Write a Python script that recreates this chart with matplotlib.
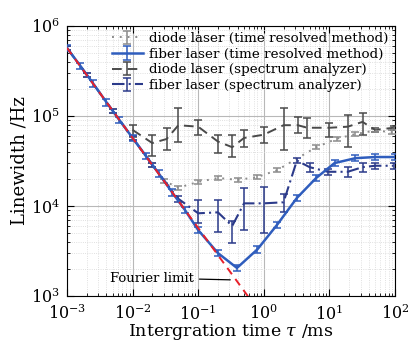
'''
Linewidth vs integration time: diode / fiber laser, time resolved vs spectrum analyzer.
'''

import numpy as np
import matplotlib
matplotlib.use('Agg')
from matplotlib import pyplot as plt
from matplotlib.ticker import LogLocator, LogFormatterMathtext, NullFormatter

plt.rcParams['font.family'] = 'DejaVu Serif'
plt.rcParams['mathtext.fontset'] = 'dejavuserif'


# diode laser, time resolved method
tau_dtr   = [1e-3, 2e-3, 5e-3, 1e-2, 2e-2, 3e-2, 0.05, 0.1, 0.2, 0.4, 0.8, 1.6, 6.3, 13, 25, 50, 90]
lw_dtr    = [5.7e5, 2.85e5, 1.14e5, 5.7e4, 2.85e4, 1.9e4, 1.6e4, 1.85e4, 2.05e4, 1.95e4, 2.1e4, 2.5e4,
             4.5e4, 5.6e4, 6.3e4, 6.9e4, 6.6e4]
err_dtr   = [0.05]*17   # relative

# fiber laser, time resolved method
tau_ftr   = [1e-3, 1.6e-3, 2.5e-3, 4e-3, 6.3e-3, 1e-2, 1.6e-2, 2.5e-2, 4e-2, 6.3e-2, 0.1, 0.2, 0.39,
             0.8, 1.6, 3.2, 6.3, 12, 25, 50, 100]
lw_ftr    = [5.7e5, 3.6e5, 2.3e5, 1.42e5, 9.0e4, 5.7e4, 3.6e4, 2.3e4, 1.42e4, 9.0e3, 5.4e3, 3.0e3, 2.05e3,
             3.3e3, 6.2e3, 1.23e4, 2.05e4, 3.0e4, 3.4e4, 3.5e4, 3.5e4]
err_ftr   = [0.08]*21   # relative

# diode laser, spectrum analyzer (centre, low, high)
tau_dsa   = [0.01, 0.02, 0.033, 0.05, 0.1, 0.2, 0.33, 0.5, 1.0, 2.0, 3.3, 4.6, 10, 19, 32, 50, 95]
lw_dsa    = [7.0e4, 5.0e4, 5.55e4, 7.9e4, 7.6e4, 5.2e4, 4.5e4, 5.7e4, 6.2e4, 7.9e4, 7.9e4, 7.4e4,
             7.4e4, 7.6e4, 8.6e4, 7.0e4, 7.4e4]
lo_dsa    = [5.8e4, 3.6e4, 4.2e4, 5.2e4, 6.2e4, 3.9e4, 3.5e4, 4.5e4, 5.0e4, 4.2e4, 6.5e4, 5.7e4,
             5.9e4, 4.5e4, 6.2e4, 6.6e4, 7.0e4]
hi_dsa    = [8.0e4, 6.2e4, 7.4e4, 1.23e5, 9.0e4, 6.2e4, 6.2e4, 7.0e4, 7.6e4, 1.23e5, 9.8e4, 9.5e4,
             8.3e4, 1.03e5, 1.08e5, 7.4e4, 7.8e4]

# fiber laser, spectrum analyzer (centre, low, high)
tau_fsa   = [1e-3, 2e-3, 5e-3, 1e-2, 2e-2, 5e-2, 0.1, 0.2, 0.33, 0.5, 1.0, 2.0, 3.2, 5, 9.5, 19, 32, 50, 95]
lw_fsa    = [5.7e5, 2.85e5, 1.14e5, 5.7e4, 2.85e4, 1.2e4, 8.3e3, 8.5e3, 6.0e3, 1.07e4, 1.07e4, 1.1e4,
             3.2e4, 2.7e4, 2.4e4, 2.4e4, 2.7e4, 2.8e4, 2.8e4]
lo_fsa    = [5.4e5, 2.7e5, 1.08e5, 5.4e4, 2.7e4, 1.1e4, 6.5e3, 5.1e3, 3.9e3, 5.4e3, 5.0e3, 8.5e3,
             3.0e4, 2.4e4, 2.2e4, 2.1e4, 2.4e4, 2.6e4, 2.6e4]
hi_fsa    = [6.0e5, 3.0e5, 1.2e5, 6.0e4, 3.0e4, 1.3e4, 1.17e4, 1.17e4, 6.9e3, 1.59e4, 1.63e4, 1.37e4,
             3.4e4, 3.0e4, 2.6e4, 2.7e4, 3.0e4, 3.0e4, 3.0e4]

# Fourier limit
tau_fl    = [1e-3, 1e0]
lw_fl     = [5.7e5, 5.7e2]


c_dtr = '#8c8c8c'
c_ftr = '#2f5dbd'
c_dsa = '#4a4a4a'
c_fsa = '#2b3a8a'

fig = plt.figure(figsize=(4.11, 3.44), dpi=100)
ax  = fig.add_axes([0.163, 0.1395, 0.798, 0.785])

def rel_err(y, e):
	y = np.asarray(y); e = np.asarray(e)
	return np.vstack([y*e, y*e])

def abs_err(y, lo, hi):
	y = np.asarray(y)
	return np.vstack([y-np.asarray(lo), np.asarray(hi)-y])

kw = dict(capsize=3, elinewidth=1.1, capthick=1.1)
ax.errorbar(tau_dsa, lw_dsa, yerr=abs_err(lw_dsa, lo_dsa, hi_dsa), color=c_dsa, lw=1.4,
	ls=(0, (5, 3)), label='diode laser (spectrum analyzer)', zorder=3, **kw)
ax.errorbar(tau_dtr, lw_dtr, yerr=rel_err(lw_dtr, err_dtr), color=c_dtr, lw=1.4,
	ls=(0, (1, 3)), label='diode laser (time resolved method)', zorder=3, **kw)
ax.errorbar(tau_fsa, lw_fsa, yerr=abs_err(lw_fsa, lo_fsa, hi_fsa), color=c_fsa, lw=1.5,
	ls=(0, (6, 2, 1, 2)), label='fiber laser (spectrum analyzer)', zorder=4, **kw)
ax.errorbar(tau_ftr, lw_ftr, yerr=rel_err(lw_ftr, err_ftr), color=c_ftr, lw=1.8,
	ls='-', label='fiber laser (time resolved method)', zorder=5, **kw)
ax.plot(tau_fl, lw_fl, color='#e8202a', lw=1.4, ls=(0, (4, 3)), zorder=6)

ax.annotate('Fourier limit', xy=(0.34, 1510), xytext=(0.086, 1585), ha='right', va='center',
	fontsize=9.5, arrowprops=dict(arrowstyle='-', color='k', lw=0.9))

ax.set_xscale('log')
ax.set_yscale('log')
ax.set_xlim(1e-3, 1e2)
ax.set_ylim(1e3, 1e6)
ax.xaxis.set_major_locator(LogLocator(base=10, numticks=10))
ax.yaxis.set_major_locator(LogLocator(base=10, numticks=10))
ax.xaxis.set_major_formatter(LogFormatterMathtext())
ax.yaxis.set_major_formatter(LogFormatterMathtext())
ax.xaxis.set_minor_locator(LogLocator(base=10, subs=np.arange(2, 10), numticks=20))
ax.yaxis.set_minor_locator(LogLocator(base=10, subs=np.arange(2, 10), numticks=20))
ax.xaxis.set_minor_formatter(NullFormatter())
ax.yaxis.set_minor_formatter(NullFormatter())
ax.tick_params(which='both', direction='in', top=True, right=True, labelsize=11.5)
ax.tick_params(which='major', length=5)
ax.tick_params(which='minor', length=2.5)
ax.tick_params(axis='x', pad=6)
ax.tick_params(axis='y', pad=5)
ax.grid(True, which='major', color='0.72', lw=0.8)
ax.grid(True, which='minor', color='0.84', lw=0.6, ls=':')
ax.set_axisbelow(True)

ax.set_xlabel(r'Intergration time $\tau$ /ms', fontsize=12.5, labelpad=-1)
ax.set_ylabel('Linewidth /Hz', fontsize=13, labelpad=2)

h, l = ax.get_legend_handles_labels()
order = [1, 3, 0, 2]
ax.legend([h[i] for i in order], [l[i] for i in order], loc='upper right', frameon=False,
	fontsize=9.7, handlelength=2.3, handletextpad=0.5, borderaxespad=0.05, labelspacing=0.2)

plt.savefig('out.png', dpi=100)
